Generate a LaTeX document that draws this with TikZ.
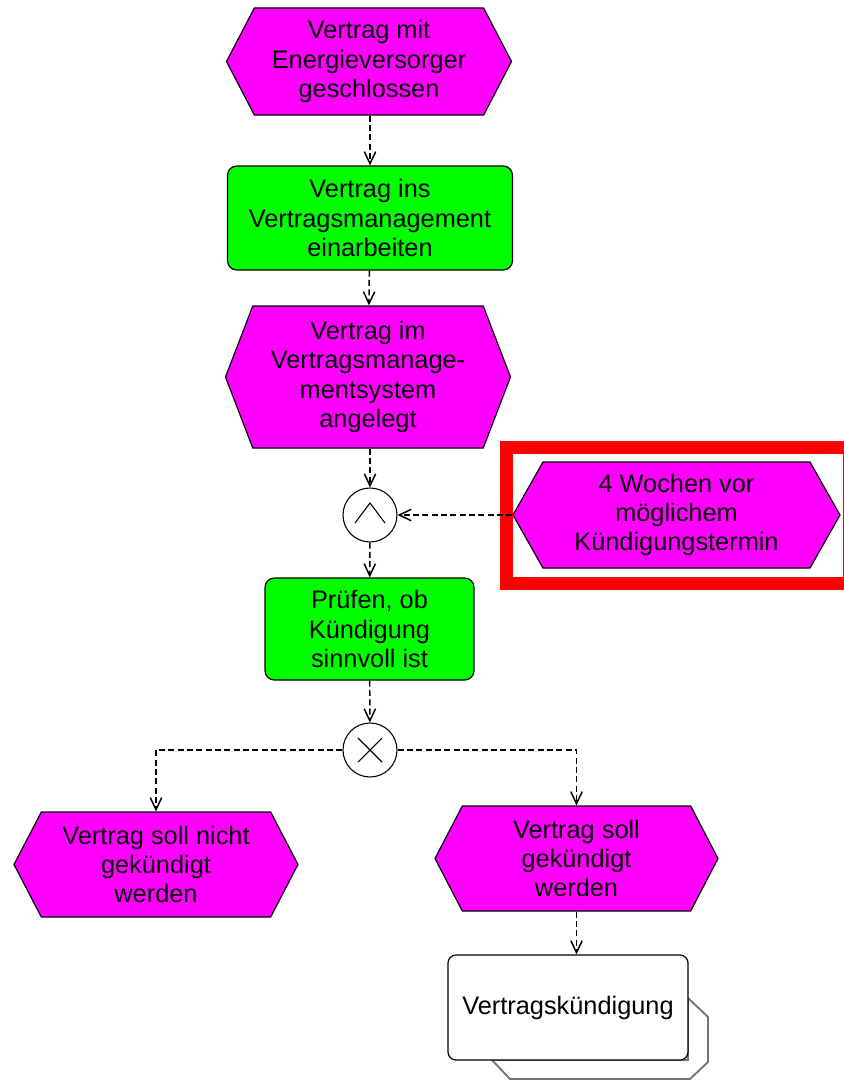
\documentclass[tikz,border=0pt]{standalone}
\usepackage{fontspec}
\setmainfont{Liberation Sans}
\usetikzlibrary{shapes.symbols, arrows.meta, positioning}

\definecolor{evmag}{HTML}{FF00FF}
\definecolor{fngreen}{HTML}{00FF00}
\newcommand{\pxu}{0.75pt}

\begin{document}
\begin{tikzpicture}[
			x=0.75pt, y=-0.75pt,
			event/.style={signal, signal to=west and east, signal pointer angle=125, draw=black, line width=0.9pt, fill=evmag, align=center, inner sep=0pt, font=\fontsize{19}{22}\selectfont},
			func/.style={rectangle, rounded corners=7pt, draw=black, line width=0.9pt, fill=fngreen, align=center, font=\fontsize{19}{22}\selectfont},
			conn/.style={circle, draw=black, line width=0.8pt, fill=white, minimum size=54*\pxu, inner sep=0pt},
			flow/.style={dashed, dash pattern=on 4.5pt off 2.5pt, line width=1.1pt, -{Straight Barb[length=9pt, width=8.5pt]}},
			]
			\useasboundingbox (0,0) rectangle (843,1081);
			\node[event, minimum width=285*\pxu, minimum height=107*\pxu] (vertrag) at (369,61.5) {Vertrag mit\\Energieversorger\\geschlossen};
			\node[func, minimum width=285*\pxu, minimum height=104*\pxu] (einarb) at (370,218) {Vertrag ins\\Vertragsmanagement\\einarbeiten};
			\node[event, signal pointer angle=138, minimum width=285*\pxu, minimum height=142*\pxu] (angelegt) at (368,377) {Vertrag im\\Vertragsmanage-\\mentsystem\\angelegt};
			\node[conn] (und) at (370,515) {};
			\node[event, signal pointer angle=121, minimum width=327*\pxu, minimum height=106*\pxu] (termin) at (676.5,515) {4 Wochen vor\\möglichem\\Kündigungstermin};
			\node[func, minimum width=209*\pxu, minimum height=102*\pxu] (pruefen) at (369.5,629) {Prüfen, ob\\Kündigung\\sinnvoll ist};
			\node[conn] (xor) at (370,750) {};
			\node[event, minimum width=284*\pxu, minimum height=105*\pxu] (nicht) at (156,864.5) {Vertrag soll nicht\\gekündigt\\werden};
			\node[event, minimum width=283*\pxu, minimum height=105*\pxu] (soll) at (576.5,858.5) {Vertrag soll\\gekündigt\\werden};
			% shadow of the process interface
			\draw[black!55, line width=1.4pt, fill=white] (492,1060) -- (510,1079) -- (690,1079) -- (708,1062) -- (708,1017) -- (688,998) -- (688,1060) -- cycle;
			\node[rectangle, rounded corners=6pt, draw=black, line width=0.9pt, fill=white, minimum width=240*\pxu, minimum height=105*\pxu, font=\fontsize{19}{22}\selectfont] (kuend) at (568,1007.5) {Vertragskündigung};
			% operator glyphs
			\draw[line width=0.8pt] ([shift={(-15,8)}]und.center) -- ([shift={(0,-12)}]und.center) -- ([shift={(15,8)}]und.center);
			\draw[line width=0.8pt] ([shift={(-12,-12)}]xor.center) -- ([shift={(12,12)}]xor.center);
			\draw[line width=0.8pt] ([shift={(-12,12)}]xor.center) -- ([shift={(12,-12)}]xor.center);
			% highlight
			\draw[red, line width=13*\pxu] (506.5,447.5) rectangle (849,583.5);
			\draw[flow] (vertrag.south -| einarb.north) -- (einarb.north);
			\draw[flow] (einarb) -- (angelegt);
			\draw[flow] (angelegt.south -| und.north) -- (und.north);
			\draw[flow] (termin.west) -- (und.east);
			\draw[flow] (und) -- (pruefen);
			\draw[flow] (pruefen) -- (xor);
			\draw[flow] (xor.west) -| (nicht.north);
			\draw[flow] (xor.east) -| (soll.north);
			\draw[flow] (soll.south) -- (soll.south |- kuend.north);
		\end{tikzpicture}
\end{document}
